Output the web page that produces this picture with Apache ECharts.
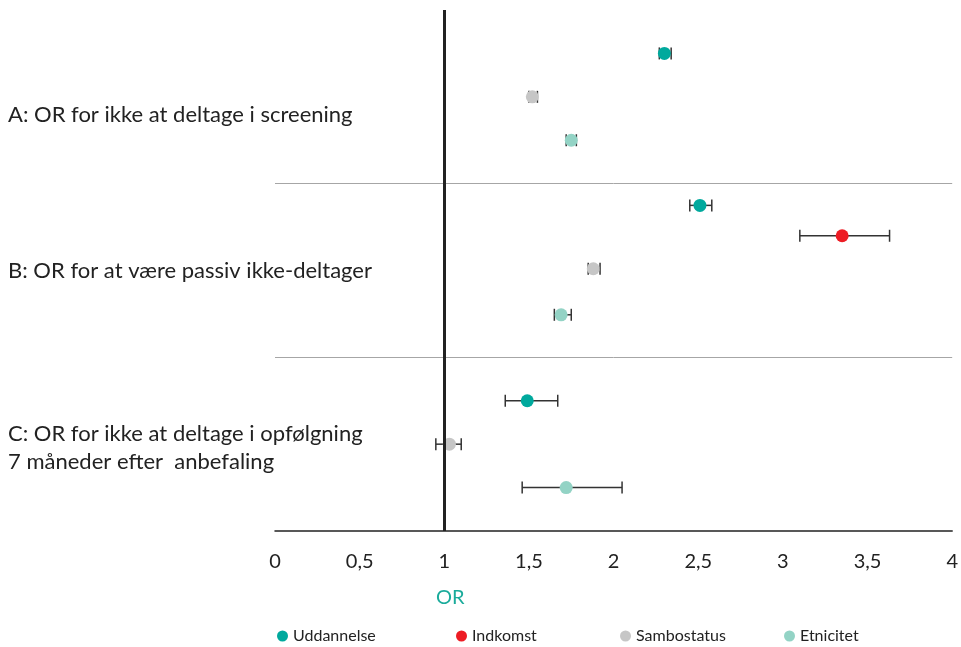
<!DOCTYPE html>
<html>
<head>
<meta charset="utf-8">
<script src="https://cdn.jsdelivr.net/npm/echarts@6/dist/echarts.min.js"></script>
<style>
html,body{margin:0;padding:0;background:#fff;}
#chart{width:961px;height:647px;}
</style>
</head>
<body>
<div id="chart"></div>
<script>
const categories = ['A: OR for ikke at deltage i screening', 'B: OR for at være passiv ikke-deltager', 'C: OR for ikke at deltage i opfølgning\n7 måneder efter  anbefaling'];
const seriesNames = ['Uddannelse', 'Indkomst', 'Sambostatus', 'Etnicitet'];
const xTicks = [0, 0.5, 1, 1.5, 2, 2.5, 3, 3.5, 4];
// rows: [group, OR, lower, upper]
const uddannelse = [[0, 2.30, 2.27, 2.34], [1, 2.51, 2.45, 2.58], [2, 1.49, 1.36, 1.67]];
const indkomst = [[1, 3.35, 3.10, 3.63]];
const sambostatus = [[0, 1.52, 1.50, 1.55], [1, 1.88, 1.85, 1.92], [2, 1.03, 0.95, 1.10]];
const etnicitet = [[0, 1.75, 1.72, 1.78], [1, 1.69, 1.65, 1.75], [2, 1.72, 1.46, 2.05]];
// vertical row position (y-axis value, 0 bottom .. 3 top)
const rowPos = {
  Uddannelse: [2.75, 1.875, 0.75],
  Indkomst: [1.70],
  Sambostatus: [2.50, 1.51, 0.50],
  Etnicitet: [2.25, 1.245, 0.25]
};
const colors = {Uddannelse: '#00a99d', Indkomst: '#ed1c24', Sambostatus: '#c6c6c6', Etnicitet: '#93d3c5'};
const dataBySeries = {Uddannelse: uddannelse, Indkomst: indkomst, Sambostatus: sambostatus, Etnicitet: etnicitet};

const chart = echarts.init(document.getElementById('chart'));
const FONT = 'Lato';

const errData = [];
const series = [];
seriesNames.forEach(name => {
  const d = dataBySeries[name];
  d.forEach((r, i) => errData.push([r[2], r[3], rowPos[name][i]]));
});

series.push({
  type: 'custom',
  name: 'err',
  z: 1,
  data: errData,
  encode: {x: [0, 1], y: 2},
  renderItem: function (params, api) {
    const y = api.value(2);
    const p1 = api.coord([api.value(0), y]);
    const p2 = api.coord([api.value(1), y]);
    const h = 6;
    const st = {stroke: '#333', lineWidth: 1.5};
    return {
      type: 'group',
      children: [
        {type: 'line', shape: {x1: p1[0], y1: p1[1], x2: p2[0], y2: p2[1]}, style: st},
        {type: 'line', shape: {x1: p1[0], y1: p1[1] - h, x2: p1[0], y2: p1[1] + h}, style: st},
        {type: 'line', shape: {x1: p2[0], y1: p2[1] - h, x2: p2[0], y2: p2[1] + h}, style: st}
      ]
    };
  },
  markLine: {
    silent: true,
    symbol: 'none',
    label: {show: false},
    lineStyle: {color: '#222', width: 3, type: 'solid'},
    data: [{xAxis: 1}]
  }
});

seriesNames.forEach(name => {
  series.push({
    type: 'scatter',
    name: name,
    z: 3,
    symbol: 'circle',
    symbolSize: 13,
    itemStyle: {color: colors[name], opacity: 1},
    data: dataBySeries[name].map((r, i) => [r[1], rowPos[name][i]])
  });
});

const legendX = [277, 456, 620, 784];
const legends = seriesNames.map((n, i) => ({
  data: [n],
  left: legendX[i],
  top: 628,
  padding: 0,
  icon: 'circle',
  itemWidth: 11,
  itemHeight: 11,
  itemGap: 0,
  textStyle: {fontFamily: FONT, fontSize: 16, color: '#222'}
}));

const labelTop = [101, 257, 420];
const graphics = categories.map((c, i) => ({
  type: 'text',
  left: 8,
  top: labelTop[i],
  style: {text: c, font: '22px ' + FONT, fill: '#222', lineHeight: 28}
}));
graphics.push({
  type: 'text', left: 436, top: 588,
  style: {text: 'OR', font: '20px ' + FONT, fill: '#1aab9b'}
});

chart.setOption({
  animation: false,
  backgroundColor: '#fff',
  grid: {left: 275, right: 4, top: 10, bottom: 116, containLabel: false},
  xAxis: {
    type: 'value', min: 0, max: 4, interval: 0.5,
    axisLine: {show: true, lineStyle: {color: '#222', width: 1.5}},
    axisTick: {show: false},
    splitLine: {show: false},
    axisLabel: {
      margin: 21, fontFamily: FONT, fontSize: 20, color: '#222',
      formatter: v => String(v).replace('.', ',')
    }
  },
  yAxis: {
    type: 'value', min: 0, max: 3, interval: 1,
    axisLine: {show: false}, axisTick: {show: false}, axisLabel: {show: false},
    splitLine: {show: true, showMinLine: false, showMaxLine: false, lineStyle: {color: '#a6a6a6', width: 1}}
  },
  legend: legends,
  graphic: graphics,
  series: series
});
</script>
</body>
</html>
